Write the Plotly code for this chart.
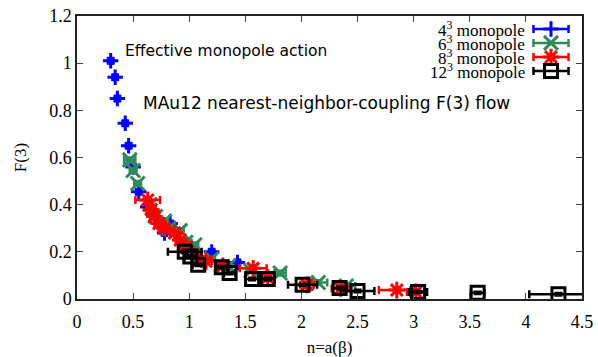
import plotly.graph_objects as go

# ---- data: (n, F(3)) with error bars ----
x4 = [0.30, 0.34, 0.36, 0.43, 0.46, 0.50, 0.55, 0.63, 0.72, 0.78, 0.83, 0.98, 1.02, 1.20, 1.43]
y4 = [1.01, 0.94, 0.85, 0.745, 0.65, 0.56, 0.455, 0.39, 0.34, 0.28, 0.32, 0.23, 0.22, 0.20, 0.155]
dx4 = [0.02] * len(x4)
dy4 = [0.01] * len(x4)

x6 = [0.47, 0.50, 0.54, 0.65, 0.70, 0.78, 0.82, 0.92, 0.97, 1.05, 1.20, 1.35, 1.55, 1.81, 2.15, 2.40]
y6 = [0.59, 0.545, 0.49, 0.40, 0.35, 0.33, 0.30, 0.29, 0.24, 0.23, 0.17, 0.14, 0.12, 0.11, 0.07, 0.055]
dx6 = [0.05, 0.03, 0.03, 0.03, 0.03, 0.03, 0.03, 0.03, 0.03, 0.03, 0.03, 0.03, 0.04, 0.05, 0.08, 0.08]
dy6 = [0.01] * len(x6)

x8 = [0.63, 0.66, 0.69, 0.73, 0.78, 0.87, 0.92, 0.97, 1.07, 1.15, 1.30, 1.57, 1.70, 2.05, 2.35, 2.85, 3.02]
y8 = [0.42, 0.38, 0.35, 0.32, 0.30, 0.28, 0.25, 0.22, 0.18, 0.16, 0.14, 0.13, 0.09, 0.06, 0.045, 0.038, 0.03]
dx8 = [0.11, 0.04, 0.04, 0.04, 0.04, 0.04, 0.04, 0.04, 0.04, 0.05, 0.05, 0.12, 0.06, 0.06, 0.08, 0.16, 0.08]
dy8 = [0.01] * len(x8)

x12 = [0.96, 1.01, 1.08, 1.29, 1.36, 1.56, 1.70, 2.01, 2.34, 2.50, 3.04, 3.57, 4.29]
y12 = [0.20, 0.18, 0.145, 0.135, 0.11, 0.085, 0.085, 0.06, 0.047, 0.034, 0.03, 0.026, 0.02]
dx12 = [0.15, 0.05, 0.05, 0.05, 0.05, 0.06, 0.06, 0.13, 0.06, 0.15, 0.08, 0.06, 0.26]
dy12 = [0.005] * len(x12)

labels = ["4<sup>3</sup> monopole", "6<sup>3</sup> monopole",
          "8<sup>3</sup> monopole", "12<sup>3</sup> monopole"]
colors = ["#0000ff", "#2e8b57", "#ff0000", "#000000"]
symbols = ["cross-thin", "x-thin", "asterisk", "square-open"]
sizes = [11, 14, 14, 13]

xticks = [0, 0.5, 1, 1.5, 2, 2.5, 3, 3.5, 4, 4.5]
yticks = [0, 0.2, 0.4, 0.6, 0.8, 1, 1.2]

series = [(x4, y4, dx4, dy4), (x6, y6, dx6, dy6), (x8, y8, dx8, dy8), (x12, y12, dx12, dy12)]

fig = go.Figure()
for (xs, ys, dxs, dys), col, sym, sz in zip(series, colors, symbols, sizes):
    fig.add_trace(go.Scatter(
        x=xs, y=ys, mode="markers",
        marker=dict(symbol=sym, size=sz, color=col, line=dict(color=col, width=3)),
        error_x=dict(type="data", array=dxs, color=col, thickness=2.5, width=4),
        error_y=dict(type="data", array=dys, color=col, thickness=2.5, width=4),
        showlegend=False,
    ))

# key samples drawn on an overlay axis spanning the plot area (0..1)
key_x = 0.9386
key_y = [0.954, 0.905, 0.855, 0.806]
for col, sym, sz, ky in zip(colors, symbols, sizes, key_y):
    fig.add_trace(go.Scatter(
        x=[key_x], y=[ky], mode="markers", xaxis="x2", yaxis="y2",
        marker=dict(symbol=sym, size=sz, color=col, line=dict(color=col, width=3)),
        error_x=dict(type="constant", value=0.0347, color=col, thickness=2.5, width=4),
        showlegend=False, hoverinfo="skip",
    ))

annotations = []
for lab, ky in zip(labels, key_y):
    annotations.append(dict(
        x=0.89, y=ky, xref="x2", yref="y2", text=lab, showarrow=False,
        xanchor="right", yanchor="middle", borderpad=0,
        font=dict(family="Liberation Serif", size=17, color="black"),
    ))
annotations.append(dict(
    x=0.41, y=1.05, xref="x", yref="y", text="Effective monopole action",
    showarrow=False, xanchor="left", yanchor="middle",
    font=dict(family="DejaVu Sans", size=15.5, color="black"),
))
annotations.append(dict(
    x=0.57, y=0.83, xref="x", yref="y", text="MAu12 nearest-neighbor-coupling F(3) flow",
    showarrow=False, xanchor="left", yanchor="middle",
    font=dict(family="DejaVu Sans", size=17, color="black"),
))

axis_common = dict(
    showline=True, linecolor="#222222", linewidth=1.5, mirror="allticks",
    ticks="inside", ticklen=6, tickcolor="#444444", tickwidth=1,
    showgrid=False, zeroline=False, automargin=False,
    tickfont=dict(family="Liberation Serif", size=18, color="black"),
)

fig.update_layout(
    width=598, height=357,
    margin=dict(l=77, r=16, t=16, b=58),
    paper_bgcolor="white", plot_bgcolor="white",
    xaxis=dict(range=[0, 4.5], tickvals=xticks, ticktext=[f"{v:g}" for v in xticks],
               ticklabelstandoff=6,
               title=dict(text="n=a(β)", font=dict(family="Liberation Serif", size=17, color="black"),
                          standoff=11),
               **axis_common),
    yaxis=dict(range=[0, 1.2], tickvals=yticks, ticktext=[f"{v:g}" for v in yticks],
               title=dict(text="F(3)", font=dict(family="Liberation Serif", size=17, color="black"),
                          standoff=18),
               **axis_common),
    xaxis2=dict(range=[0, 1], overlaying="x", visible=False, fixedrange=True),
    yaxis2=dict(range=[0, 1], overlaying="y", visible=False, fixedrange=True),
    annotations=annotations,
)

fig.write_html("out.html")
